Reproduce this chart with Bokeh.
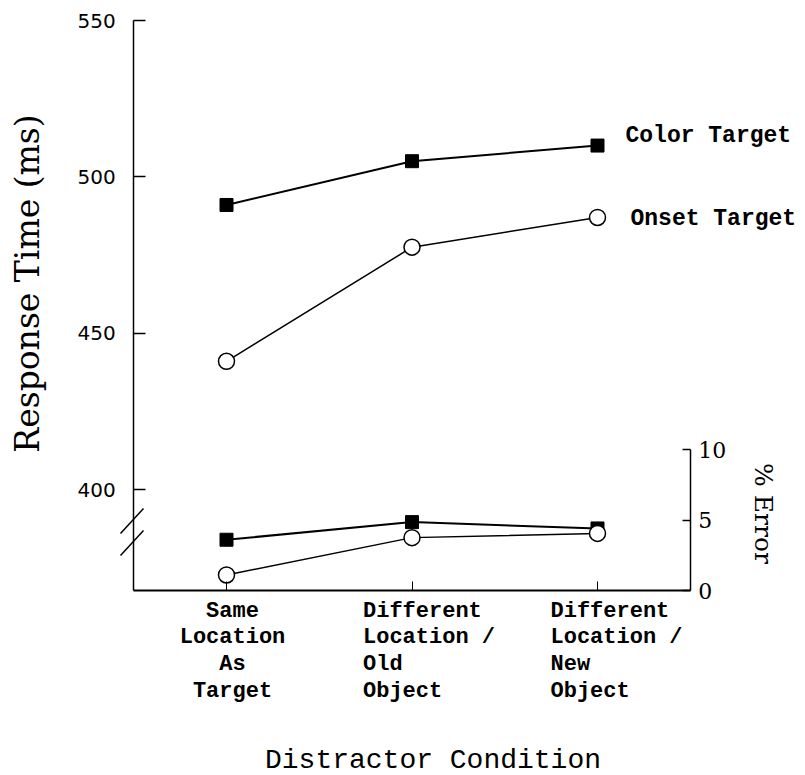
import math
from bokeh.plotting import figure
from bokeh.models import Range1d, LinearAxis, FixedTicker, ColumnDataSource
from bokeh.core.properties import value
from bokeh.embed import file_html
from bokeh.resources import INLINE

# ---- data ----
conditions = [1, 2, 3]
cond_labels = ["Same\nLocation\nAs\nTarget",
               "Different\nLocation /\nOld\nObject",
               "Different\nLocation /\nNew\nObject"]
color_rt = [491, 505, 510]
onset_rt = [441, 477.5, 487]
color_err = [3.6, 4.85, 4.4]
onset_err = [1.1, 3.75, 4.05]
rt_ticks = [400, 450, 500, 550]
err_ticks = [0, 5, 10]
series_names = ["Color Target", "Onset Target"]
x_title = "Distractor Condition"
y_title = "Response Time (ms)"
y2_title = "% Error"

# ---- canvas / scale geometry (pixels) ----
W, H = 805, 775
PX_PER_COND = 185.5          # horizontal spacing of the conditions
X_FIRST = 226                # pixel of condition 1
PX_PER_MS = 469 / 150.0      # vertical scale of the RT axis
Y_550 = 20                   # pixel of 550 ms
PX_PER_PCT = 14.1            # vertical scale of % error
Y_ERR0 = 590                 # pixel of 0 % error (bottom axis)

x_start = 1 - X_FIRST / PX_PER_COND
x_end = x_start + W / PX_PER_COND
rt_end = 550 + Y_550 / PX_PER_MS
rt_start = rt_end - H / PX_PER_MS
err_end = Y_ERR0 / PX_PER_PCT
err_start = err_end - H / PX_PER_PCT

def fx(px):
    return x_start + px / PX_PER_COND

def fy(py):
    return rt_end - py / PX_PER_MS

X_LEFT, X_RIGHT = 0.5, 3.5          # axis positions (condition units)
RT_BOTTOM = fy(Y_ERR0)              # bottom of RT axis

p = figure(width=W, height=H, x_range=Range1d(x_start, x_end),
           y_range=Range1d(rt_start, rt_end),
           output_backend="svg", toolbar_location=None,
           x_axis_location=None, y_axis_location=None)
p.extra_y_ranges = {"err": Range1d(err_start, err_end)}
p.min_border = 0
p.min_border_left = 0
p.min_border_right = 0
p.min_border_top = 0
p.min_border_bottom = 0
p.outline_line_color = None
p.grid.visible = False
p.background_fill_color = "white"
p.border_fill_color = "white"

# left axis (RT)
ya = LinearAxis(ticker=FixedTicker(ticks=rt_ticks), fixed_location=X_LEFT,
                bounds=(RT_BOTTOM, 550))
ya.axis_line_width = 1.5
ya.major_tick_in = 12
ya.major_tick_out = 0
ya.major_tick_line_width = 1.5
ya.major_label_standoff = 18
ya.major_label_text_font = "DejaVu Sans"
ya.major_label_text_font_size = "20px"
ya.major_label_text_color = "black"
ya.minor_tick_line_color = None
p.add_layout(ya, "left")

# right axis (% error)
ra = LinearAxis(y_range_name="err", ticker=FixedTicker(ticks=err_ticks),
                fixed_location=X_RIGHT, bounds=(0, 10))
ra.axis_line_width = 1.5
ra.major_tick_in = 8
ra.major_tick_out = 0
ra.major_tick_line_width = 1.5
ra.major_label_standoff = 8
ra.major_label_text_font = "DejaVu Serif"
ra.major_label_text_font_size = "22px"
ra.major_label_text_color = "black"
ra.minor_tick_line_color = None
p.add_layout(ra, "right")

# bottom axis
xa = LinearAxis(y_range_name="err", ticker=FixedTicker(ticks=conditions),
                fixed_location=0, bounds=(X_LEFT, X_RIGHT))
xa.axis_line_width = 2
xa.major_tick_in = 9
xa.major_tick_out = 0
xa.major_tick_line_width = 1
xa.major_label_text_font_size = "0px"
xa.major_label_text_alpha = 0
xa.minor_tick_line_color = None
p.add_layout(xa, "below")

# axis break marks on the RT axis
brk = dict(x0=[fx(120), fx(120)], y0=[fy(533), fy(555)],
           x1=[fx(143), fx(143)], y1=[fy(508), fy(530)])
p.segment(x0="x0", y0="y0", x1="x1", y1="y1", source=ColumnDataSource(brk),
          line_width=1.5, line_color="black")

# series
p.line(conditions, color_rt, line_width=2, color="black")
p.line(conditions, onset_rt, line_width=1.5, color="black")
p.line(conditions, color_err, line_width=2, color="black", y_range_name="err")
p.line(conditions, onset_err, line_width=1.5, color="black", y_range_name="err")
p.scatter(conditions, color_rt, marker="square", size=13, fill_color="black", line_color="black")
p.scatter(conditions, onset_rt, marker="circle", size=16, fill_color="white",
          line_color="black", line_width=1.5)
p.scatter(conditions, color_err, marker="square", size=13, fill_color="black",
          line_color="black", y_range_name="err")
p.scatter(conditions, onset_err, marker="circle", size=16, fill_color="white",
          line_color="black", line_width=1.5, y_range_name="err")

MONO = value("Liberation Mono")

# category labels under the x axis
p.text(x=conditions[:1], y=[0], text=cond_labels[:1], x_offset=6, y_offset=8,
       text_align="center", text_baseline="top", text_font=MONO, text_font_style="bold",
       text_font_size="22px", text_color="black", text_line_height=1.07,
       y_range_name="err")
p.text(x=conditions[1:], y=[0, 0], text=cond_labels[1:], x_offset=[-49, -47], y_offset=8,
       text_align="left", text_baseline="top", text_font=MONO, text_font_style="bold",
       text_font_size="22px", text_color="black", text_line_height=1.07,
       y_range_name="err")

# x title
p.text(x=[conditions[1]], y=[0], text=[x_title], x_offset=21, y_offset=170,
       text_align="center", text_baseline="alphabetic", text_font=MONO,
       text_font_size="28px", text_color="black", y_range_name="err")

# series labels at the line ends
p.text(x=[conditions[-1]], y=[color_rt[-1]], text=[series_names[0]], x_offset=28, y_offset=-10,
       text_align="left", text_baseline="alphabetic", text_font=MONO, text_font_style="bold",
       text_font_size="23px", text_color="black")
p.text(x=[conditions[-1]], y=[onset_rt[-1]], text=[series_names[1]], x_offset=33, y_offset=2,
       text_align="left", text_baseline="alphabetic", text_font=MONO, text_font_style="bold",
       text_font_size="23px", text_color="black")

# axis titles
p.text(x=[fx(27)], y=[fy(283)], text=[y_title], angle=math.pi / 2,
       text_align="center", text_baseline="middle", text_font=value("DejaVu Serif"),
       text_font_size="33px", text_color="black")
p.text(x=[fx(763)], y=[fy(513)], text=[y2_title], angle=-math.pi / 2,
       text_align="center", text_baseline="middle", text_font=value("DejaVu Serif"),
       text_font_size="25px", text_color="black")

open("out.html", "w").write(file_html(p, INLINE))
